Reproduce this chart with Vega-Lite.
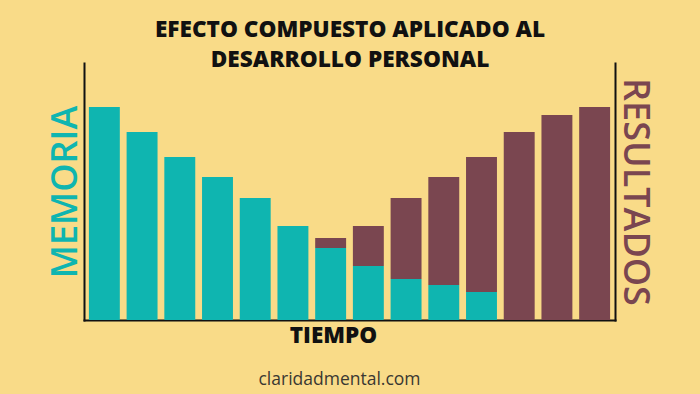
{
  "$schema": "https://vega.github.io/schema/vega-lite/v6.json",
  "width": 531,
  "height": 257,
  "autosize": {"type": "none"},
  "padding": {"left": 84, "top": 63, "right": 85, "bottom": 74},
  "background": "#F9DB88",
  "config": {"view": {"stroke": null}, "font": "Open Sans"},
  "title": {"text": "claridadmental.com", "orient": "bottom", "fontSize": 17.5, "fontWeight": "normal", "font": "Open Sans", "color": "#3a3832", "offset": 24, "dx": -10, "anchor": "middle"},
  "data": {"values": [
    {"t": 1, "total": 213, "memoria": 213},
    {"t": 2, "total": 188, "memoria": 188},
    {"t": 3, "total": 163, "memoria": 163},
    {"t": 4, "total": 143, "memoria": 143},
    {"t": 5, "total": 122, "memoria": 122},
    {"t": 6, "total": 94, "memoria": 94},
    {"t": 7, "total": 82, "memoria": 72},
    {"t": 8, "total": 94, "memoria": 54},
    {"t": 9, "total": 122, "memoria": 41},
    {"t": 10, "total": 143, "memoria": 35},
    {"t": 11, "total": 163, "memoria": 28},
    {"t": 12, "total": 188, "memoria": 0},
    {"t": 13, "total": 205, "memoria": 0},
    {"t": 14, "total": 213, "memoria": 0}
  ]},
  "layer": [
    {
      "transform": [{"filter": "datum.memoria > 0"}],
      "mark": {"type": "bar", "color": "#0FB5B0"},
      "encoding": {
        "x": {"field": "t", "type": "ordinal", "scale": {"paddingInner": 0.18, "paddingOuter": 0.13},
          "axis": {"orient": "bottom", "title": "TIEMPO", "labels": false, "ticks": false, "grid": false, "domainColor": "#111111", "domainWidth": 2, "domainCap": "square", "titleFontSize": 22.5, "titleFontWeight": 800, "titleColor": "#111111", "titlePadding": 4, "titleX": 249, "titleFont": "Open Sans"}},
        "y": {"field": "memoria", "type": "quantitative", "scale": {"domain": [0, 257], "nice": false},
          "axis": {"orient": "left", "title": "MEMORIA", "labels": false, "ticks": false, "grid": false, "domainColor": "#111111", "domainWidth": 2, "domainCap": "square", "titleFontSize": 36, "titleFontWeight": 600, "titleColor": "#0FB5B0", "titlePadding": 0, "titleFont": "Open Sans"}}
      }
    },
    {
      "transform": [{"filter": "datum.total > datum.memoria"}],
      "mark": {"type": "bar", "color": "#7A4650"},
      "encoding": {
        "x": {"field": "t", "type": "ordinal",
          "axis": {"orient": "top", "title": ["EFECTO COMPUESTO APLICADO AL", "DESARROLLO PERSONAL"], "labels": false, "ticks": false, "grid": false, "domain": false, "titleFontSize": 22.6, "titleFontWeight": 800, "titleColor": "#111111", "titleLineHeight": 30, "titlePadding": -8, "titleFont": "Open Sans"}},
        "y": {"field": "total", "type": "quantitative",
          "axis": {"orient": "right", "title": "RESULTADOS", "labels": false, "ticks": false, "grid": false, "domainColor": "#111111", "domainWidth": 2, "domainCap": "square", "titleFontSize": 36, "titleFontWeight": 600, "titleColor": "#7A4650", "titlePadding": 0, "titleFont": "Open Sans"}},
        "y2": {"field": "memoria"}
      }
    }
  ],
  "resolve": {"axis": {"x": "independent", "y": "independent"}}
}
